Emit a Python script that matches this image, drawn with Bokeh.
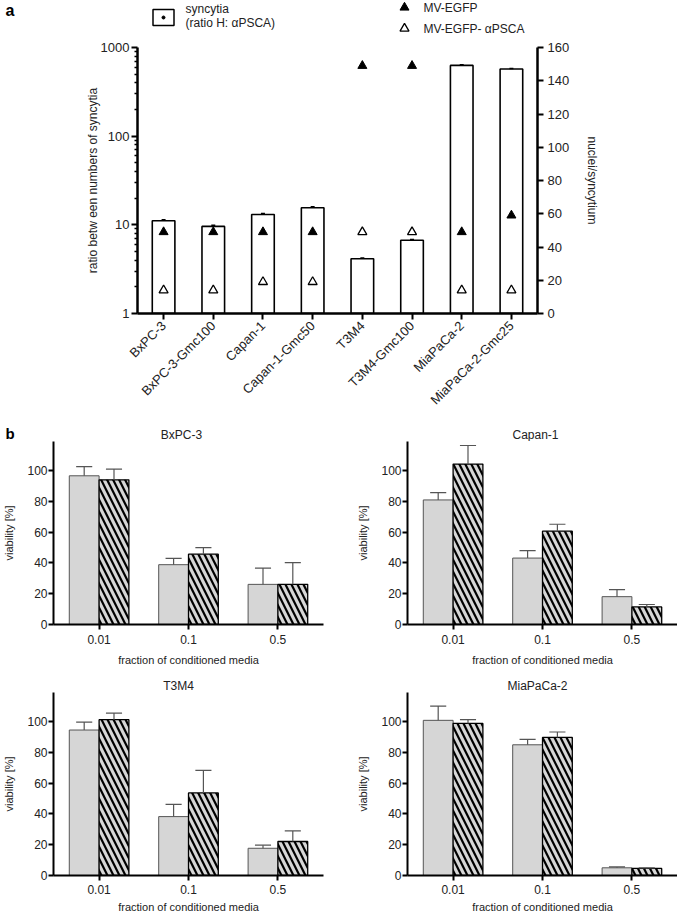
import math
from bokeh.plotting import figure
from bokeh.models import Range1d, LinearAxis, LinearScale, FixedTicker, NumeralTickFormatter
from bokeh.layouts import column, row
from bokeh.embed import file_html
from bokeh.resources import INLINE
from bokeh.core.properties import value

FONT = "Liberation Sans"
TXT = "#222222"
PAGE_W = 677

# ---------------- data: panel a ----------------
cell_lines = ["BxPC-3", "BxPC-3-Gmc100", "Capan-1", "Capan-1-Gmc50",
              "T3M4", "T3M4-Gmc100", "MiaPaCa-2", "MiaPaCa-2-Gmc25"]
syncytia_ratio = [11.1, 9.6, 13.1, 15.6, 4.14, 6.7, 628, 573]
syncytia_err = [0.3, 0.3, 0.3, 0.4, 0.08, 0.12, 10, 8]
nuclei_mv_egfp = [49, 49, 49, 49, 149, 149, 49, 59]
nuclei_mv_egfp_apsca = [14, 14, 19, 19, 49, 49, 14, 14]
left_ticks = [1, 10, 100, 1000]
right_ticks = [0, 20, 40, 60, 80, 100, 120, 140, 160]

# ---------------- data: panel b ----------------
fractions = ["0.01", "0.1", "0.5"]
viab_ticks = [0, 20, 40, 60, 80, 100]
bxpc3_grey = [96.7, 38.9, 26.1]
bxpc3_grey_sd = [5.9, 4.1, 10.6]
bxpc3_hatch = [94.1, 45.7, 26.1]
bxpc3_hatch_sd = [7.0, 4.3, 14.1]
capan1_grey = [81.0, 43.2, 18.1]
capan1_grey_sd = [4.7, 4.8, 4.6]
capan1_hatch = [104.3, 60.7, 11.4]
capan1_hatch_sd = [12.1, 4.5, 1.6]
t3m4_grey = [94.6, 38.3, 17.7]
t3m4_grey_sd = [5.2, 8.0, 2.0]
t3m4_hatch = [101.3, 53.7, 22.1]
t3m4_hatch_sd = [4.3, 14.7, 6.9]
mia_grey = [100.9, 85.0, 5.0]
mia_grey_sd = [9.3, 3.5, 0.6]
mia_hatch = [98.9, 89.8, 4.6]
mia_hatch_sd = [2.4, 3.5, 0.4]


def style_axis(ax, font_size="13px"):
    ax.axis_line_width = 2.5
    ax.axis_line_color = "black"
    ax.major_tick_line_width = 2
    ax.major_tick_line_color = "black"
    ax.major_tick_in = 0
    ax.major_tick_out = 6
    ax.minor_tick_in = 0
    ax.minor_tick_out = 3
    ax.minor_tick_line_width = 1.5
    ax.minor_tick_line_color = "black"
    ax.major_label_text_font = FONT
    ax.major_label_text_font_size = font_size
    ax.major_label_text_color = TXT
    ax.axis_label_text_font = FONT
    ax.axis_label_text_font_style = "normal"
    ax.axis_label_text_color = TXT


def strip(y0, y1):
    """A blank full-width canvas whose data units are page pixels."""
    s = figure(width=PAGE_W, height=y1 - y0, x_range=Range1d(0, PAGE_W), y_range=Range1d(y1, y0),
               x_axis_location=None, y_axis_location=None, min_border=0,
               min_border_left=0, min_border_right=0, min_border_top=0, min_border_bottom=0,
               toolbar_location=None, output_backend="svg")
    s.outline_line_color = None
    s.grid.visible = False
    return s


def put_text(s, xs, ys, texts, size="12px", style="normal", align="left", color=TXT):
    s.text(x=xs, y=ys, text=texts, text_font=value(FONT), text_font_size=size,
           text_font_style=style, text_baseline="middle", text_align=align, text_color=color)


# ---------------- legend strip ----------------
leg = strip(0, 40)
put_text(leg, [5], [10], ["a"], size="16px", style="bold", color="black")
leg.rect(x=[163], y=[17], width=21, height=16, fill_color=None, line_color="black", line_width=1.5)
leg.scatter(x=[163], y=[17], size=3, color="black")
put_text(leg, [185, 185], [8, 22], ["syncytia", "(ratio H: \u03b1PSCA)"])
leg.scatter(x=[404], y=[7], marker="triangle", size=9, color="black")
leg.scatter(x=[404], y=[28], marker="triangle", size=9, fill_color="white",
            line_color="black", line_width=1.3)
put_text(leg, [423, 423], [7, 28], ["MV-EGFP", "MV-EGFP- \u03b1PSCA"])

# ---------------- panel a ----------------
xs = list(range(len(cell_lines)))
pa = figure(width=PAGE_W, height=383, y_axis_type="log",
            x_range=Range1d(-0.525, 7.525), y_range=Range1d(1, 1000),
            min_border_left=137, min_border_right=140, min_border_top=7, min_border_bottom=110,
            toolbar_location=None, output_backend="svg")
pa.outline_line_color = None
pa.grid.visible = False
pa.extra_y_ranges = {"right": Range1d(0, 160)}
pa.extra_y_scales = {"right": LinearScale()}

pa.vbar(x=xs, top=syncytia_ratio, bottom=1, width=0.455, fill_color="white",
        line_color="black", line_width=1.6)
err_top = [v + e for v, e in zip(syncytia_ratio, syncytia_err)]
pa.segment(x0=xs, y0=syncytia_ratio, x1=xs, y1=err_top, line_color="black", line_width=1.2)
pa.segment(x0=[x - 0.04 for x in xs], y0=err_top, x1=[x + 0.04 for x in xs], y1=err_top,
           line_color="black", line_width=1.5)
pa.scatter(x=xs, y=nuclei_mv_egfp, y_range_name="right", marker="triangle", size=9, color="black")
pa.scatter(x=xs, y=nuclei_mv_egfp_apsca, y_range_name="right", marker="triangle", size=9,
           fill_color="white", line_color="black", line_width=1.3)

yl = pa.yaxis[0]
minor = [m * d for d in [1, 10, 100] for m in range(2, 10)]
yl.ticker = FixedTicker(ticks=left_ticks, minor_ticks=minor)
yl.formatter = NumeralTickFormatter(format="0")
style_axis(yl)
yl.major_label_standoff = 2
yl.axis_label = "ratio betw een numbers of syncytia"
yl.axis_label_text_font_size = "12px"
yl.axis_label_standoff = -2

yr = LinearAxis(y_range_name="right", ticker=FixedTicker(ticks=right_ticks),
                axis_label="nuclei/syncytium")
style_axis(yr)
yr.minor_tick_out = 0
yr.major_label_standoff = 4
yr.axis_label_text_font_size = "12px"
yr.axis_label_standoff = 13
pa.add_layout(yr, "right")

xa = pa.xaxis[0]
xa.ticker = FixedTicker(ticks=xs)
xa.major_label_overrides = {i: n for i, n in enumerate(cell_lines)}
xa.major_label_orientation = math.pi / 4
style_axis(xa)
xa.major_label_standoff = 4

# ---------------- title strips for panel b ----------------
tb = strip(423, 441)
put_text(tb, [5], [433], ["b"], size="15px", style="bold", color="black")
put_text(tb, [181, 535], [434, 434], ["BxPC-3", "Capan-1"], align="center")

tb2 = strip(673, 692)
put_text(tb2, [178, 537], [685.5, 685.5], ["T3M4", "MiaPaCa-2"], align="center")


# ---------------- panel b ----------------
def make_b(grey, grey_sd, hatch, hatch_sd, width, height, left, right, bottom,
           ylab_standoff, xtick_standoff, xlab_standoff):
    p = figure(width=width, height=height, x_range=Range1d(-0.51, 2.51), y_range=Range1d(0, 119),
               min_border_left=left, min_border_right=right, min_border_top=0,
               min_border_bottom=bottom, toolbar_location=None, output_backend="svg")
    p.outline_line_color = None
    p.grid.visible = False
    gx = [i - 1 / 6 for i in range(3)]
    hx = [i + 1 / 6 for i in range(3)]
    p.vbar(x=gx, top=grey, bottom=0, width=1 / 3, fill_color="#d6d6d6",
           line_color="#555555", line_width=1)
    p.vbar(x=hx, top=hatch, bottom=0, width=1 / 3, fill_color="#d6d6d6",
           line_color="black", line_width=1.3, hatch_pattern="\\", hatch_color="black",
           hatch_weight=2.2, hatch_scale=12)
    for cx, vals, sds in ((gx, grey, grey_sd), (hx, hatch, hatch_sd)):
        tops = [v + s for v, s in zip(vals, sds)]
        p.segment(x0=cx, y0=vals, x1=cx, y1=tops, line_color="#555555", line_width=1.2)
        p.segment(x0=[c - 0.09 for c in cx], y0=tops, x1=[c + 0.09 for c in cx], y1=tops,
                  line_color="#555555", line_width=1.2)
    ya = p.yaxis[0]
    ya.ticker = FixedTicker(ticks=viab_ticks)
    style_axis(ya, "12px")
    ya.axis_line_width = 2
    ya.major_tick_out = 5
    ya.major_label_standoff = 1
    ya.axis_label = "viability [%]"
    ya.axis_label_text_font_size = "11px"
    ya.axis_label_standoff = ylab_standoff
    xb = p.xaxis[0]
    xb.ticker = FixedTicker(ticks=[0, 1, 2])
    xb.major_label_overrides = {i: f for i, f in enumerate(fractions)}
    style_axis(xb, "12px")
    xb.axis_line_width = 2
    xb.major_tick_out = 5
    xb.major_label_standoff = xtick_standoff
    xb.axis_label = "fraction of conditioned media"
    xb.axis_label_text_font_size = "11px"
    xb.axis_label_standoff = xlab_standoff
    return p


b1 = make_b(bxpc3_grey, bxpc3_grey_sd, bxpc3_hatch, bxpc3_hatch_sd,
            354, 232, 47, 31, 49, 9, 5, 7)
b2 = make_b(capan1_grey, capan1_grey_sd, capan1_hatch, capan1_hatch_sd,
            323, 232, 47, 0, 49, 9, 5, 7)
b3 = make_b(t3m4_grey, t3m4_grey_sd, t3m4_hatch, t3m4_hatch_sd,
            354, 223, 47, 31, 40, 9, 4, 4)
b4 = make_b(mia_grey, mia_grey_sd, mia_hatch, mia_hatch_sd,
            323, 223, 47, 0, 40, 9, 4, 4)

layout = column(row(leg), row(pa), row(tb), row(b1, b2), row(tb2), row(b3, b4))
open("out.html", "w").write(file_html(layout, INLINE))
